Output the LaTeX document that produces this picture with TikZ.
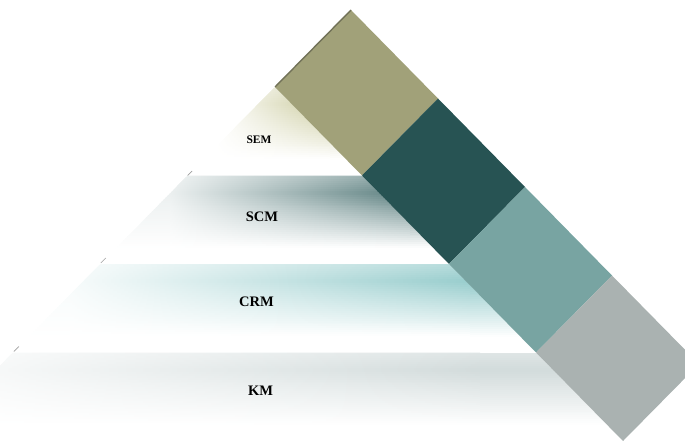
\documentclass[tikz,border=0pt]{standalone}
\usepackage{fontspec}
\setmainfont{Liberation Serif}

\definecolor{khaki}{HTML}{A1A179}
\definecolor{khakiedge}{HTML}{727258}
\definecolor{darkteal}{HTML}{275353}
\definecolor{teal}{HTML}{78A4A2}
\definecolor{slate}{HTML}{AAB2B1}
\definecolor{semtint}{HTML}{CACA9C}
\definecolor{scmtint}{HTML}{5A7E7E}
\definecolor{crmtint}{HTML}{98CDCD}
\definecolor{kmtint}{HTML}{D2DBDB}

% Fill a band with thin horizontal strips: each strip shades from a pale
% tone (left) to the tint (right), and the tint strength follows a profile
% that peaks a little below the band top and dies out towards its bottom.
% #1 tint, #2 top y, #3 bottom y, #4 x where shading starts,
% #5 x where it reaches full tint, #6 left-side strength factor
\newcommand{\shadeband}[6]{%
  \foreach \k in {0,...,44}{
    \pgfmathsetmacro\tt{(\k+0.5)/45}
    \pgfmathsetmacro\pp{\tt<0.2 ? 70+150*\tt : max(0,100-(\tt-0.2)*160)}
    \pgfmathsetmacro\pl{#6*\pp}
    \pgfmathsetmacro\ya{#2+(#3-#2)*\k/45}
    \pgfmathsetmacro\yb{#2+(#3-#2)*(\k+1)/45+0.7}
    \fill[#1!\pl!white] (-90,\ya) rectangle (#4,\yb);
    \shade[left color=#1!\pl!white, right color=#1!\pp!white] (#4,\ya) rectangle (#5,\yb);
    \fill[#1!\pp!white] (#5,\ya) rectangle (710,\yb);
  }}

\tikzset{
  lbl/.style={font=\bfseries\fontsize{14.5}{16}\selectfont, inner sep=0pt},
  smalllbl/.style={font=\bfseries\fontsize{11.5}{13}\selectfont, inner sep=0pt},
  tick/.style={draw=gray!75, line width=0.6pt},
}

\begin{document}
\begin{tikzpicture}[x=1pt,y=-1pt]
  \useasboundingbox (0,0) rectangle (685,441);
  \clip (0,0) rectangle (685,441);

  % pyramid outline points (left edge) and tile corners (right column)
  \coordinate (apex) at (351,10);
  \coordinate (l1) at (275,87);
  \coordinate (l2) at (187.6,175.5);
  \coordinate (l3) at (100.3,264);
  \coordinate (l4) at (12.9,352.5);
  \coordinate (l5) at (-74.4,441);
  \coordinate (t2) at (438,98.5);
  \coordinate (t3) at (525,187);
  \coordinate (t4) at (612,275.5);
  \coordinate (t5) at (699,364);
  \coordinate (b1) at (362,175.5);
  \coordinate (b2) at (449,264);
  \coordinate (b3) at (536,352.5);
  \coordinate (b4) at (623,441);

  % bands of the pyramid
  \begin{scope}
    \clip (l1) -- (b1) -- (l2) -- cycle;
    \shadeband{semtint}{87}{175.5}{215}{330}{0.0}
  \end{scope}
  \begin{scope}
    \clip (l2) -- (b1) -- (b2) -- (l3) -- cycle;
    \shadeband{scmtint}{175.5}{264}{170}{410}{0.12}
  \end{scope}
  \begin{scope}
    \clip (l3) -- (b2) -- (b3) -- (l4) -- cycle;
    \shadeband{crmtint}{264}{352.5}{70}{470}{0.08}
  \end{scope}
  \begin{scope}
    \clip (l4) -- (b3) -- (b4) -- (l5) -- cycle;
    \shadeband{kmtint}{352.5}{441}{0}{480}{0.2}
  \end{scope}

  % column of tiles
  \fill[khaki]    (apex) -- (t2) -- (b1) -- (l1) -- cycle;
  \fill[darkteal] (t2) -- (t3) -- (b2) -- (b1) -- cycle;
  \fill[teal]     (t3) -- (t4) -- (b3) -- (b2) -- cycle;
  \fill[slate]    (t4) -- (t5) -- (b4) -- (b3) -- cycle;
  \draw[khakiedge, line width=1.4pt] (l1) -- (apex);

  % small marks on the pyramid edge at the band tops
  \draw[tick] (l2) -- ++(4.5,-4.5);
  \draw[tick] ([shift={(0.5,-1)}]l3) -- ++(5,-5);
  \draw[tick] ([shift={(1,-1)}]l4) -- ++(5,-5);

  % labels
  \node[smalllbl] (sem) at (259,139.5) {SEM};
  \node[lbl] (scm) at (262,217) {SCM};
  \node[lbl] (crm) at (256.5,302) {CRM};
  \node[lbl] (km)  at (260.5,390.5) {KM};
\end{tikzpicture}
\end{document}
